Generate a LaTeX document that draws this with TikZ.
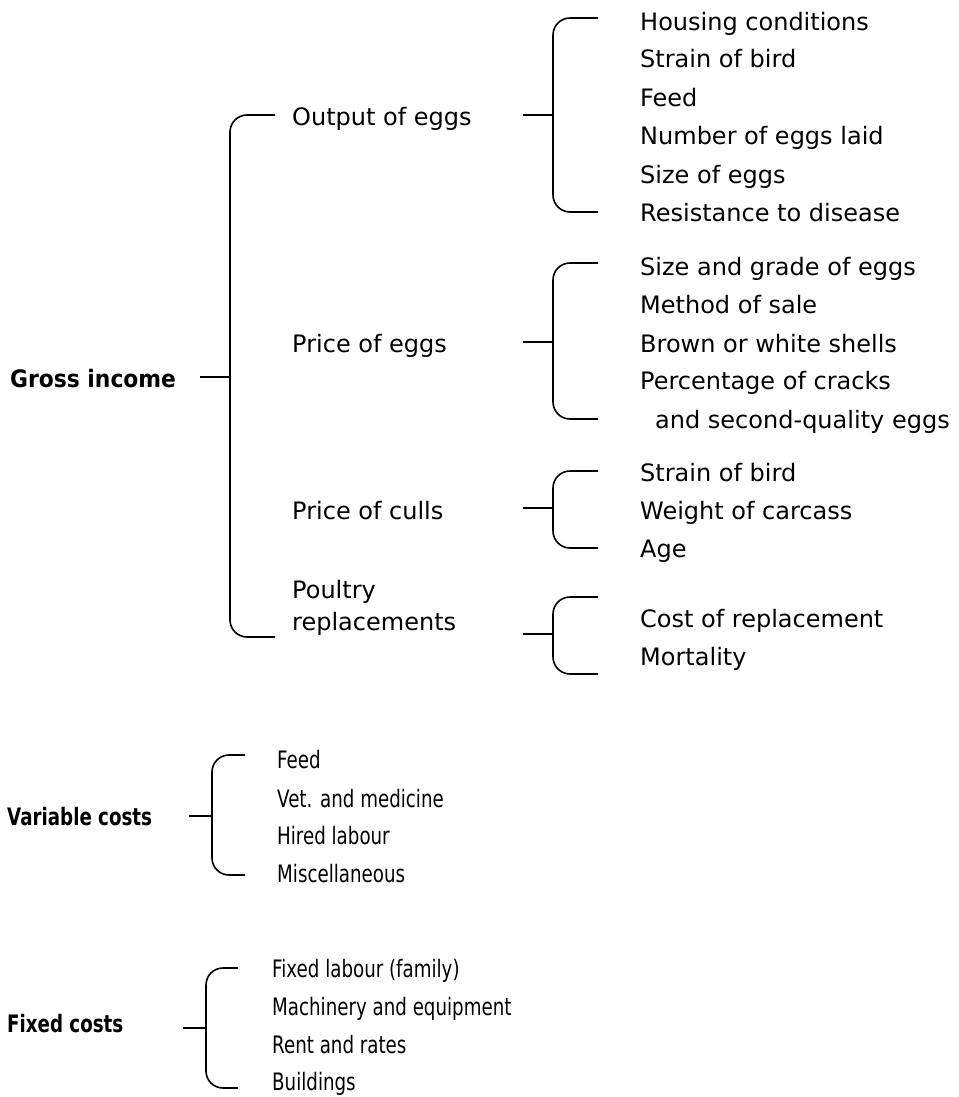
\documentclass[tikz,border=0pt]{standalone}
\usepackage{fontspec}
\setmainfont{DejaVu Sans}
\newfontfamily\narrowfont{DejaVu Sans}[FakeStretch=0.76]
\newfontfamily\headfont{DejaVu Sans}[FakeStretch=0.91]
\begin{document}
\begin{tikzpicture}[x=1pt,y=-1pt,
  item/.style={anchor=base west, inner sep=0pt, font=\fontsize{24}{32}\selectfont},
  head/.style={item, font=\fontsize{24}{32}\headfont\bfseries},
  lowitem/.style={item, font=\fontsize{24}{32}\narrowfont},
  lowhead/.style={item, font=\fontsize{24}{32}\narrowfont\bfseries},
  brace/.style={line width=1.6pt, rounded corners=17pt},
  stub/.style={line width=1.6pt}]
\useasboundingbox (0,0) rectangle (958,1097);

% ---- Gross income ----
\node[head] (gross) at (10,387) {Gross income};
\node[item] (out)   at (292,126) {Output of eggs};
\node[item] (peggs) at (292,352) {Price of eggs};
\node[item] (culls) at (292,519) {Price of culls};
\node[item, align=left] (poul) at (292,630) {Poultry\\replacements};

\coordinate (giT) at (275,115);  \coordinate (giB) at (275,637);
\coordinate (giS) at (200,377);  \coordinate (giV) at (230,377);
\draw[brace] (giT) -- ++(-45,0) |- (giB);
\draw[stub] (giS) -- (giV);

% Output of eggs
\node[item] (o1) at (640,31)  {Housing conditions};
\node[item] (o2) at (640,68)  {Strain of bird};
\node[item] (o3) at (640,107) {Feed};
\node[item] (o4) at (640,145) {Number of eggs laid};
\node[item] (o5) at (640,183) {Size of eggs};
\node[item] (o6) at (640,221) {Resistance to disease};
\coordinate (oeT) at (598,18);  \coordinate (oeB) at (598,212);
\coordinate (oeS) at (523,115); \coordinate (oeV) at (553,115);
\draw[brace] (oeT) -- ++(-45,0) |- (oeB);
\draw[stub] (oeS) -- (oeV);

% Price of eggs
\node[item] (p1) at (640,275) {Size and grade of eggs};
\node[item] (p2) at (640,313) {Method of sale};
\node[item] (p3) at (640,352) {Brown or white shells};
\node[item] (p4) at (640,389) {Percentage of cracks};
\node[item] (p5) at (655,428) {and second-quality eggs};
\coordinate (peT) at (598,263);  \coordinate (peB) at (598,419);
\coordinate (peS) at (523,342);  \coordinate (peV) at (553,342);
\draw[brace] (peT) -- ++(-45,0) |- (peB);
\draw[stub] (peS) -- (peV);

% Price of culls
\node[item] (c1) at (640,481) {Strain of bird};
\node[item] (c2) at (640,519) {Weight of carcass};
\node[item] (c3) at (640,557) {Age};
\coordinate (pcT) at (598,471);  \coordinate (pcB) at (598,548);
\coordinate (pcS) at (523,508);  \coordinate (pcV) at (553,508);
\draw[brace] (pcT) -- ++(-45,0) |- (pcB);
\draw[stub] (pcS) -- (pcV);

% Poultry replacements
\node[item] (r1) at (640,627) {Cost of replacement};
\node[item] (r2) at (640,665) {Mortality};
\coordinate (prT) at (598,597);  \coordinate (prB) at (598,674);
\coordinate (prS) at (523,634);  \coordinate (prV) at (553,634);
\draw[brace] (prT) -- ++(-45,0) |- (prB);
\draw[stub] (prS) -- (prV);

% ---- Variable costs ----
\node[lowhead] (var) at (7,825) {Variable costs};
\node[lowitem] (v1) at (277,768) {Feed};
\node[lowitem] (v2) at (277,807) {Vet. and medicine};
\node[lowitem] (v3) at (277,844) {Hired labour};
\node[lowitem] (v4) at (277,882) {Miscellaneous};
\coordinate (vcT) at (245,755);  \coordinate (vcB) at (245,875);
\coordinate (vcS) at (189,816);  \coordinate (vcV) at (212,816);
\draw[brace] (vcT) -- ++(-33,0) |- (vcB);
\draw[stub] (vcS) -- (vcV);

% ---- Fixed costs ----
\node[lowhead] (fix) at (7,1032) {Fixed costs};
\node[lowitem] (f1) at (272,977)  {Fixed labour (family)};
\node[lowitem] (f2) at (272,1015) {Machinery and equipment};
\node[lowitem] (f3) at (272,1053) {Rent and rates};
\node[lowitem] (f4) at (272,1090) {Buildings};
\coordinate (fcT) at (238,968);  \coordinate (fcB) at (238,1088);
\coordinate (fcS) at (183,1028); \coordinate (fcV) at (206,1028);
\draw[brace] (fcT) -- ++(-32,0) |- (fcB);
\draw[stub] (fcS) -- (fcV);
\end{tikzpicture}
\end{document}
